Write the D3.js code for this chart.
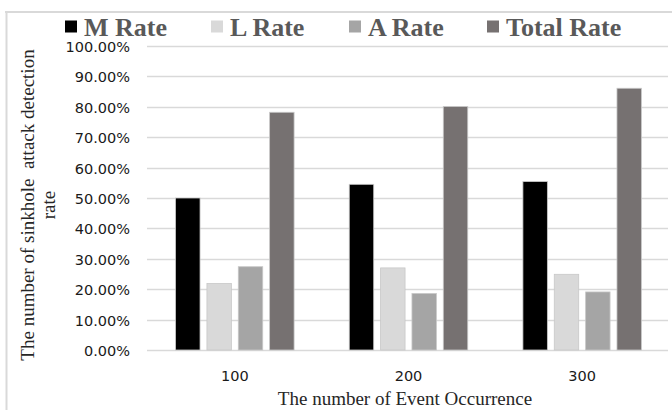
<!DOCTYPE html>
<html>
<head>
<meta charset="utf-8">
<script src="https://cdn.jsdelivr.net/npm/d3@7"></script>
<style>
  html, body { margin: 0; padding: 0; background: #fff; }
  svg { display: block; }
</style>
</head>
<body>
<svg id="chart" width="672" height="410"></svg>
<script>
const categories = ["100", "200", "300"];
const seriesNames = ["M Rate", "L Rate", "A Rate", "Total Rate"];
const mRate = [0.500, 0.545, 0.554];
const lRate = [0.219, 0.270, 0.249];
const aRate = [0.274, 0.186, 0.191];
const totalRate = [0.782, 0.801, 0.861];
const yTicks = [0, 0.1, 0.2, 0.3, 0.4, 0.5, 0.6, 0.7, 0.8, 0.9, 1.0];
const seriesColors = ["#000000", "#d9d9d9", "#a5a5a5", "#767171"];

const seriesValues = [mRate, lRate, aRate, totalRate];
const data = categories.map((c, i) => ({
  cat: c,
  vals: seriesNames.map((s, j) => ({ key: s, value: seriesValues[j][i] }))
}));

const svg = d3.select("#chart");
const W = 672, H = 410;
const plot = { left: 148, right: 669, top: 46, bottom: 350 };

// frame (top & left edges visible)
svg.append("line").attr("x1", 5).attr("x2", W).attr("y1", 12).attr("y2", 12)
  .attr("stroke", "#d9d9d9").attr("stroke-width", 2);
svg.append("line").attr("x1", 6.5).attr("x2", 6.5).attr("y1", 12).attr("y2", H)
  .attr("stroke", "#d9d9d9").attr("stroke-width", 2);

const x = d3.scaleBand().domain(categories).range([plot.left, plot.right]).padding(0);
const x1 = d3.scaleBand().domain(seriesNames).range([0, x.bandwidth()])
  .paddingInner(0.22).paddingOuter(0.88);
const y = d3.scaleLinear().domain([0, 1]).range([plot.bottom, plot.top]);

// gridlines
svg.append("g").selectAll("line").data(yTicks).join("line")
  .attr("x1", plot.left - 1).attr("x2", 668)
  .attr("y1", d => Math.round(y(d)) + 0.5).attr("y2", d => Math.round(y(d)) + 0.5)
  .attr("stroke", "#d9d9d9").attr("stroke-width", 1.3);

// y tick labels
const yAxis = d3.axisLeft(y).tickValues(yTicks).tickFormat(d3.format(".2%")).tickSize(0).tickPadding(0);
const gy = svg.append("g").attr("transform", "translate(130,0)").call(yAxis);
gy.select(".domain").remove();
gy.selectAll("text").attr("font-family", "DejaVu Sans").attr("font-size", 14.5)
  .attr("fill", "#1a1a1a").attr("dy", "0.38em");

// x tick labels
const xAxis = d3.axisBottom(x).tickSize(0).tickPadding(0);
const gx = svg.append("g").attr("transform", "translate(0,370)").call(xAxis);
gx.select(".domain").remove();
gx.selectAll("text").attr("font-family", "DejaVu Sans").attr("font-size", 14.5)
  .attr("fill", "#1a1a1a").attr("dy", "0.75em");

// bars
const color = d3.scaleOrdinal().domain(seriesNames).range(seriesColors);
svg.append("g").selectAll("g").data(data).join("g")
  .attr("transform", d => `translate(${x(d.cat)},0)`)
  .selectAll("rect").data(d => d.vals).join("rect")
  .attr("x", d => x1(d.key))
  .attr("width", x1.bandwidth())
  .attr("y", d => y(d.value))
  .attr("height", d => y(0) - y(d.value))
  .attr("fill", d => color(d.key))
  .attr("stroke", "#c8c8c8").attr("stroke-width", 0.8);

// legend
const legendX = [65, 211, 349, 487];
const lg = svg.append("g").selectAll("g").data(seriesNames).join("g")
  .attr("transform", (d, i) => `translate(${legendX[i]},0)`);
lg.append("rect").attr("x", 0).attr("y", 20.5).attr("width", 12).attr("height", 12)
  .attr("fill", d => color(d));
lg.append("text").attr("x", 19).attr("y", 36)
  .attr("font-family", "Liberation Serif").attr("font-weight", "bold").attr("font-size", 26)
  .attr("fill", "#595959").text(d => d);

// axis titles
svg.append("text").attr("x", (plot.left + 668) / 2 - 3).attr("y", 405)
  .attr("text-anchor", "middle").attr("font-family", "Liberation Serif").attr("font-size", 19)
  .attr("fill", "#262626").text("The number of Event Occurrence");

const yt = svg.append("text").attr("transform", "translate(34,205) rotate(-90)")
  .attr("text-anchor", "middle").attr("font-family", "Liberation Serif").attr("font-size", 19)
  .attr("fill", "#262626").style("white-space", "pre");
yt.append("tspan").attr("x", 0).attr("y", 0).text("The number of sinkhole  attack detection");
yt.append("tspan").attr("x", 0).attr("y", 21).text("rate");
</script>
</body>
</html>
